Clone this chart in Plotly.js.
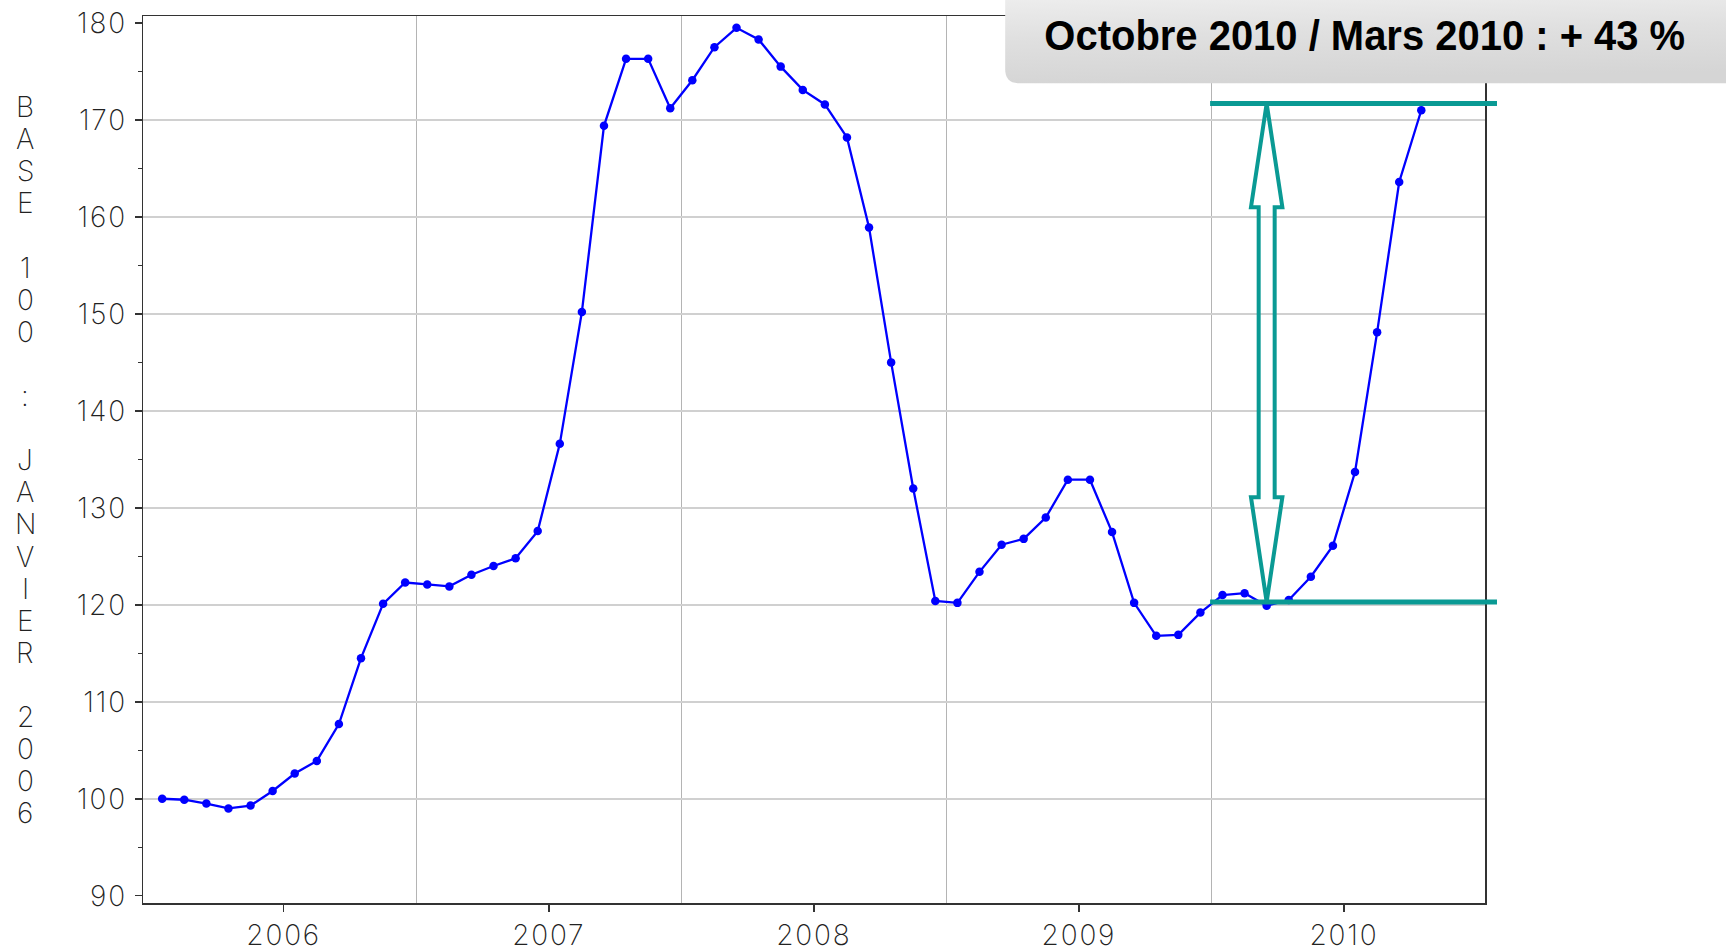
<!DOCTYPE html>
<html><head><meta charset="utf-8">
<script src="https://cdn.plot.ly/plotly-3.0.1.min.js"></script>
<style>html,body{margin:0;padding:0;background:#fff;}#chart{width:1726px;height:951px;}
#chart .xtick text, #chart .ytick text{letter-spacing:1.8px;}</style>
</head><body><div id="chart"></div>
<script>
// ---- data ----
const startYear = 2005;
const startMonth = 7; // first observation: July 2005, monthly
const indexValues = [
  100.0, 99.9, 99.5, 99.0, 99.3, 100.8,
  102.6, 103.9, 107.7, 114.5, 120.1, 122.3, 122.1, 121.9, 123.1, 124.0, 124.8, 127.6,
  136.6, 150.2, 169.4, 176.3, 176.3, 171.2, 174.1, 177.5, 179.5, 178.3, 175.5, 173.1,
  171.6, 168.2, 158.9, 145.0, 132.0, 120.4, 120.2, 123.4, 126.2, 126.8, 129.0, 132.9,
  132.9, 127.5, 120.2, 116.8, 116.9, 119.2, 121.0, 121.2, 119.9, 120.5, 122.9, 126.1,
  133.7, 148.1, 163.6, 171.0
];
const yearTickVals = [2006, 2007, 2008, 2009, 2010];
const yearTickText = ['2006','2007','2008','2009','2010'];
const midYearGrid = [2006.5, 2007.5, 2008.5, 2009.5];
const yTickVals = [90,100,110,120,130,140,150,160,170,180];
const yGridVals = [100,110,120,130,140,150,160,170];
const yTitle = 'BASE 100 : JANVIER 2006';
const boxText = 'Octobre 2010 / Mars 2010 : + 43 %';
const levelLow = 120.3, levelHigh = 171.7;   // teal reference levels
const headLow = 131.1, headHigh = 161.0;     // arrow head bases
const arrowPointIndex = 50;                  // Sep 2009

// ---- derived: month centres in decimal years ----
const xs = indexValues.map((v,i)=>{
  const k = startMonth-1+i;
  return startYear + Math.floor(k/12) + ((k%12)+0.5)/12;
});

// page geometry (pixels)
const W=1726, H=951, L=142.5, R=1485, T=15.7, B=903;
const px = x => (x-L)/(R-L);
const py = y => (B-y)/(B-T);

const teal = '#0a9a94';
const tickFont = {family:'Inter, DejaVu Sans', size:28, color:'#222', weight:200};

const annotations = [];
Array.from(yTitle).forEach((ch,i)=>{
  if(ch===' ') return;
  annotations.push({xref:'paper', yref:'paper', x:px(24.5), y:py(106.8+i*32.12),
    xanchor:'center', yanchor:'middle', text:ch, showarrow:false, font:tickFont});
});
annotations.push({xref:'paper', yref:'paper', x:px(1365), y:py(35.5), xanchor:'center', yanchor:'middle',
  text:boxText, showarrow:false,
  font:{family:'Liberation Sans, Arial', size:42, weight:700, color:'#000'}});

const r=14;
const boxPath = `M${px(1760)},${py(-20)} L${px(1005)},${py(-20)} L${px(1005)},${py(83-r)} Q${px(1005)},${py(83)} ${px(1005+r)},${py(83)} L${px(1760)},${py(83)} Z`;
const hw=15.7, sw=8;
const arrowPath = `M0,${levelHigh} L${hw},${headHigh} L${sw},${headHigh} L${sw},${headLow} L${hw},${headLow} L0,${levelLow} L${-hw},${headLow} L${-sw},${headLow} L${-sw},${headHigh} L${-hw},${headHigh} Z`;

const shapes = [
  {type:'path', xref:'paper', yref:'paper', path:boxPath, fillcolor:'#e2e2e2', line:{width:0}, layer:'above'},
  {type:'line', xref:'paper', yref:'y', x0:px(1210), x1:px(1497), y0:levelHigh, y1:levelHigh, line:{color:teal, width:5}, layer:'above'},
  {type:'line', xref:'paper', yref:'y', x0:px(1210), x1:px(1497), y0:levelLow, y1:levelLow, line:{color:teal, width:5}, layer:'above'},
  {type:'path', xref:'x', yref:'y', xsizemode:'pixel', xanchor:xs[arrowPointIndex], path:arrowPath,
   fillcolor:'rgba(0,0,0,0)', line:{color:teal, width:4}, layer:'above'}
];

const traces = [
  {x:xs, y:indexValues, type:'scatter', mode:'lines+markers',
   line:{color:'#0000ff', width:2.3}, marker:{color:'#0000ff', size:8.5}, showlegend:false, hoverinfo:'y'},
  {x:[xs[0]], y:[indexValues[0]], yaxis:'y2', type:'scatter', mode:'none', showlegend:false, hoverinfo:'skip'}
];

const yRange=[89.25,180.72];
const layout = {
  width:W, height:H,
  margin:{l:L, r:W-R, t:T, b:H-B, pad:0},
  paper_bgcolor:'#fff', plot_bgcolor:'#fff',
  showlegend:false,
  xaxis:{range:[2005.4693, 2010.532], tickmode:'array', tickvals:yearTickVals, ticktext:yearTickText,
    ticks:'outside', ticklen:7, tickwidth:1.5, tickcolor:'#333', showgrid:false, zeroline:false,
    showline:true, linecolor:'#333', linewidth:1.5, mirror:true, tickfont:tickFont,
    minor:{tickmode:'array', tickvals:midYearGrid, showgrid:true, gridcolor:'#b4b4b4', gridwidth:1, ticks:''}},
  yaxis:{range:yRange, tickmode:'array', tickvals:yTickVals, ticks:'outside', ticklen:7, tickwidth:1.5, tickcolor:'#333',
    showgrid:false, zeroline:false, showline:true, linecolor:'#333', linewidth:1.5, mirror:true, tickfont:tickFont,
    ticklabelstandoff:2,
    minor:{dtick:5, tick0:85, ticks:'outside', ticklen:3.5, tickwidth:1.2, tickcolor:'#333', showgrid:false}},
  yaxis2:{overlaying:'y', range:yRange, tickmode:'array', tickvals:yGridVals, showticklabels:false, ticks:'',
    showgrid:true, gridcolor:'#d0d0d0', gridwidth:1.5, zeroline:false, showline:false},
  shapes:shapes, annotations:annotations
};

Plotly.newPlot('chart', traces, layout, {displayModeBar:false, staticPlot:true}).then(()=>{
  const svg = document.querySelector('#chart .main-svg');
  const defs = svg.querySelector('defs');
  const ns='http://www.w3.org/2000/svg';
  const g = document.createElementNS(ns,'linearGradient');
  g.setAttribute('id','boxGrad');
  g.setAttribute('x1','0'); g.setAttribute('y1','0'); g.setAttribute('x2','0.15'); g.setAttribute('y2','1');
  [['0','#f3f3f3'],['0.55','#e0e0e0'],['1','#d5d5d5']].forEach(([o,c])=>{
    const s=document.createElementNS(ns,'stop'); s.setAttribute('offset',o); s.setAttribute('stop-color',c); g.appendChild(s);
  });
  defs.appendChild(g);
  const p = document.querySelector('#chart .shapelayer path[data-index="0"]');
  if(p) p.style.fill='url(#boxGrad)';
  // condense the headline text (narrow bold face in the reference)
  const texts = document.querySelectorAll('#chart .annotation-text');
  const t = texts[texts.length-1];
  if(t){
    const bb = t.getBBox();
    const cx = bb.x + bb.width/2;
    const s = 641/bb.width;
    t.setAttribute('transform', `translate(${cx},0) scale(${s},1) translate(${-cx},0)`);
  }
});
</script></body></html>
